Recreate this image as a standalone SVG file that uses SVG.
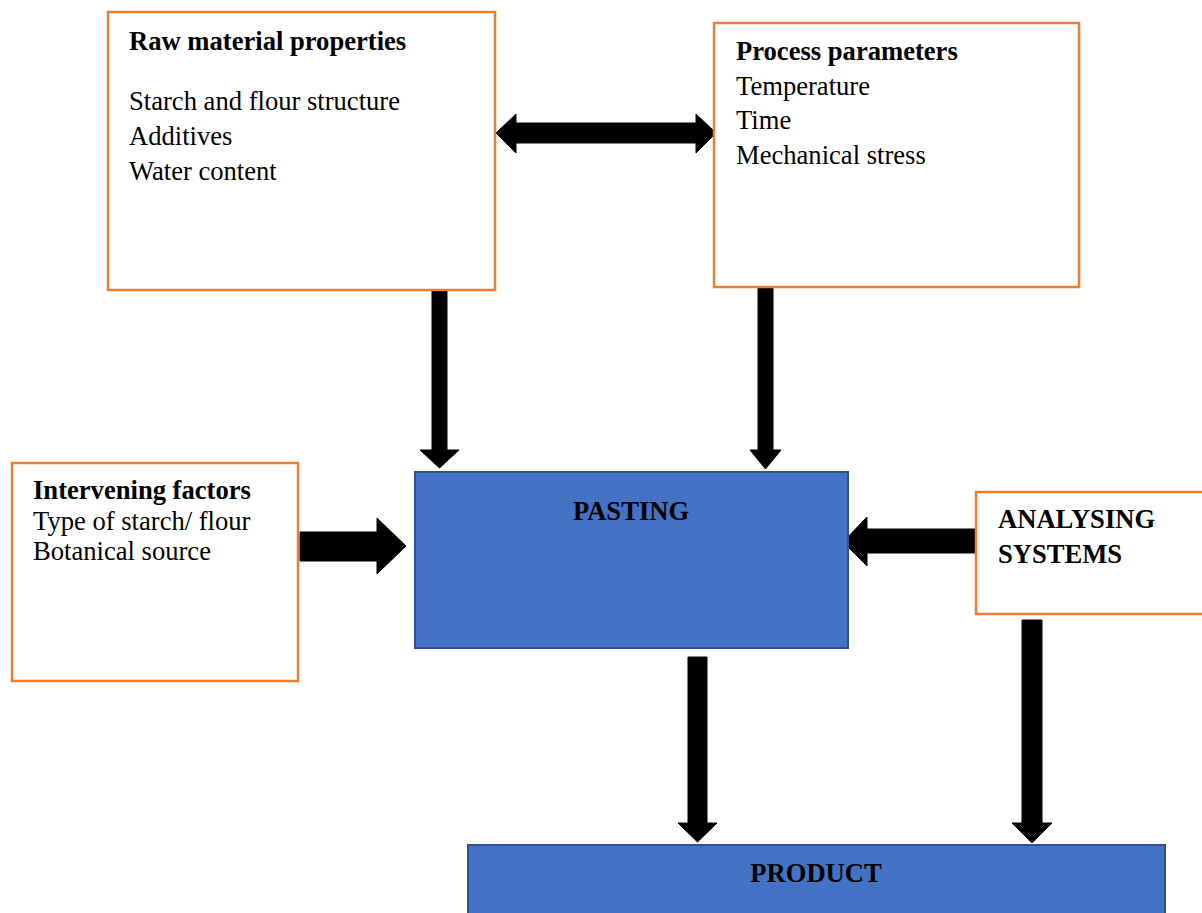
<svg xmlns="http://www.w3.org/2000/svg" width="1202" height="913" viewBox="0 0 1202 913">
<style>
.ob{fill:#fff;stroke:#ED7D31;stroke-width:2.5}
.bb{fill:#4472C4;stroke:#2F528F;stroke-width:2}
text{font-family:"Liberation Serif","Times New Roman",serif;font-size:26.6px;fill:#000}
.b{font-weight:bold}
.arr{fill:#000;stroke:#000;stroke-width:1}
</style>
<rect width="1202" height="913" fill="#fff"/>
<g id="connectors">
<polygon class="arr" points="496,133 516,114 516,123 696,123 696,114 716,133 696,153 696,143 516,143 516,153"/>
<polygon class="arr" points="432,287 447,287 447,450 459,450 439.5,468 420,450 432,450"/>
<polygon class="arr" points="758,287 773,287 773,450 781,450 765.5,469 750,450 758,450"/>
<polygon class="arr" points="300,532 377,532 377,518 406,546 377,574 377,561 300,561"/>
<polygon class="arr" points="977,529 867,529 867,517 843,542 867,566 867,553 977,553"/>
<polygon class="arr" points="688,657 707,657 707,823 717,823 697.5,842 678,823 688,823"/>
<polygon class="arr" points="1022,620 1042,620 1042,823 1052,823 1032,843 1012,823 1022,823"/>
</g>
<g id="raw">
<rect class="ob" x="108" y="12" width="387" height="278"/>
<text class="b" x="129" y="49.5">Raw material properties</text>
<text x="129" y="109.5">Starch and flour structure</text>
<text x="129" y="144.5">Additives</text>
<text x="129" y="180.2">Water content</text>
</g>
<g id="process">
<rect class="ob" x="714" y="23" width="365" height="264"/>
<text class="b" x="736" y="59.5">Process parameters</text>
<text x="736" y="94.5">Temperature</text>
<text x="736" y="129">Time</text>
<text x="736" y="164.2">Mechanical stress</text>
</g>
<g id="intervening">
<rect class="ob" x="12" y="463" width="286" height="218"/>
<text class="b" x="33" y="499.2">Intervening factors</text>
<text x="33" y="530.2">Type of starch/ flour</text>
<text x="33" y="559.7">Botanical source</text>
</g>
<g id="pasting">
<rect class="bb" x="415" y="472" width="433" height="176"/>
<text class="b" x="631" y="519.5" text-anchor="middle">PASTING</text>
</g>
<g id="analysing">
<rect class="ob" x="976" y="492" width="240" height="122"/>
<text class="b" x="998" y="528.2">ANALYSING</text>
<text class="b" x="998" y="563.2">SYSTEMS</text>
</g>
<g id="product">
<rect class="bb" x="468" y="845" width="697" height="80"/>
<text class="b" x="816" y="882.2" text-anchor="middle">PRODUCT</text>
</g>
</svg>
